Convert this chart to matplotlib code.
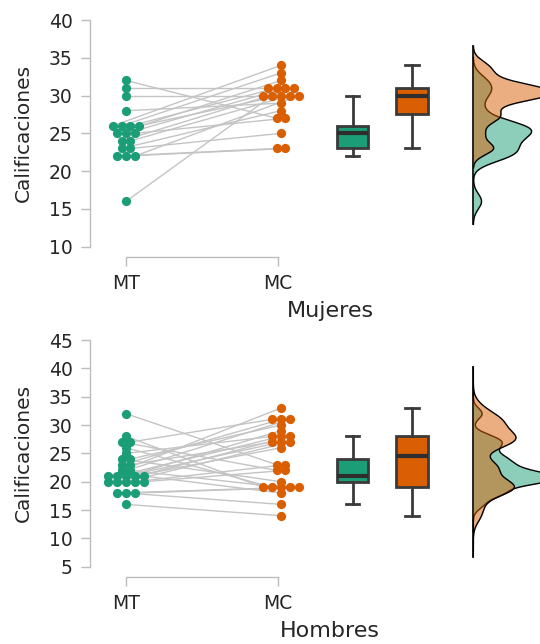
import numpy as np
import matplotlib
matplotlib.use('Agg')
import matplotlib.pyplot as plt

# datos (calificaciones pareadas MT -> MC)
grupos = ['MT', 'MC']
mujeres_mt = [32, 31, 30, 28, 16, 26, 26, 26, 26, 25, 25, 25, 24, 24, 23, 23, 22, 22, 22]
mujeres_mc = [27, 31, 30, 29, 30, 34, 33, 31, 30, 32, 31, 27, 31, 30, 28, 25, 23, 23, 30]
hombres_mt = [32, 28, 27, 27, 26, 25, 24, 24, 23, 23, 22, 22, 21, 21, 21, 21, 21,
              20, 20, 20, 20, 20, 18, 18, 18, 16]
hombres_mc = [23, 19, 22, 31, 19, 28, 20, 30, 31, 27, 33, 19, 31, 28, 27, 26, 18,
              29, 28, 27, 23, 22, 19, 16, 19, 14]
titulos = ['Mujeres', 'Hombres']
yticks_list = [np.arange(10, 41, 5), np.arange(5, 46, 5)]

verde = '#1b9e77'
naranja = '#d95f02'
gris = '#bcbcbc'
oscuro = '#3a3a3a'
texto = '#262626'

# posiciones en x (MT=0, MC=1)
pos_box = [1.49, 1.88]
x_dens = 2.285
xlim = (-0.237, 2.921)


def swarm(vals, step=0.058):
    # separa lado a lado los puntos con el mismo valor
    vals = np.asarray(vals)
    off = np.zeros(len(vals))
    for v in np.unique(vals):
        idx = np.where(vals == v)[0]
        m = len(idx)
        off[idx] = (np.arange(m) - (m - 1) / 2) * step
    return off


def kde(vals, cut, adjust=0.5):
    vals = np.asarray(vals, float)
    bw = adjust * vals.std(ddof=1) * len(vals) ** (-1 / 5)  # scott
    y = np.linspace(vals.min() - cut * bw, vals.max() + cut * bw, 400)
    d = np.exp(-0.5 * ((y[:, None] - vals[None, :]) / bw) ** 2).sum(1)
    d = d / (len(vals) * bw * np.sqrt(2 * np.pi))
    return y, d


def panel(ax, mt, mc, titulo, yticks, cut, ancho, xlab_y):
    mt = np.array(mt)
    mc = np.array(mc)
    x_mt = 0 + swarm(mt)
    x_mc = 1.02 + swarm(mc)

    # lineas pareadas
    for a, b, ya, yb in zip(x_mt, x_mc, mt, mc):
        ax.plot([a, b], [ya, yb], color='#c4c4c4', lw=1, zorder=1)
    ax.scatter(x_mt, mt, s=44, color=verde, zorder=3, linewidths=0)
    ax.scatter(x_mc, mc, s=44, color=naranja, zorder=3, linewidths=0)

    # boxplots
    bp = ax.boxplot([mt, mc], positions=pos_box, widths=0.21, patch_artist=True,
                    showfliers=False, capwidths=0.092,
                    boxprops=dict(edgecolor=oscuro, linewidth=2),
                    whiskerprops=dict(color=oscuro, linewidth=2),
                    capprops=dict(color=oscuro, linewidth=2),
                    medianprops=dict(color='#2e2e2e', linewidth=3))
    for patch, c in zip(bp['boxes'], [verde, naranja]):
        patch.set_facecolor(c)

    # densidades
    y1, d1 = kde(mt, cut)
    y2, d2 = kde(mc, cut)
    esc = ancho / max(d1.max(), d2.max())
    ax.fill_betweenx(y1, x_dens, x_dens + d1 * esc, color=verde, alpha=0.5, lw=0, zorder=2)
    ax.plot(x_dens + d1 * esc, y1, color='black', lw=1, zorder=2)
    ax.fill_betweenx(y2, x_dens, x_dens + d2 * esc, color=naranja, alpha=0.5, lw=0, zorder=2)
    ax.plot(x_dens + d2 * esc, y2, color='black', lw=1, zorder=2)
    ax.plot([x_dens, x_dens], [min(y1[0], y2[0]), max(y1[-1], y2[-1])],
            color='black', lw=1.2, zorder=2)

    ax.set_xlim(*xlim)
    ax.set_ylim(yticks[0], yticks[-1])
    ax.set_yticks(yticks)
    ax.set_xticks([0, 1])
    ax.set_xticklabels(grupos)
    for s in ['top', 'right']:
        ax.spines[s].set_visible(False)
    ax.spines['bottom'].set_position(('outward', 7.5))
    ax.spines['bottom'].set_bounds(0, 1)
    ax.spines['left'].set_bounds(yticks[0], yticks[-1])
    for s in ['left', 'bottom']:
        ax.spines[s].set_color(gris)
        ax.spines[s].set_linewidth(1)
    ax.tick_params(colors=gris, labelcolor=texto, labelsize=13.5, length=6.5, width=1, pad=6)
    ax.set_ylabel('Calificaciones', fontsize=14.5, color=texto)
    ax.yaxis.set_label_coords(-0.118, 0.5)
    ax.set_xlabel(titulo, fontsize=16, color=texto, va='top')
    ax.xaxis.set_label_coords(0.5, xlab_y)


fig = plt.figure(figsize=(5.4, 6.44), dpi=100)
ax1 = fig.add_axes([0.16667, 0.6169, 0.8889, 0.352])
ax2 = fig.add_axes([0.16667, 0.1200, 0.8889, 0.352])

panel(ax1, mujeres_mt, mujeres_mc, titulos[0], yticks_list[0], 3, 0.52, -0.24)
panel(ax2, hombres_mt, hombres_mc, titulos[1], yticks_list[1], 5.2, 0.55, -0.24)

fig.savefig('out.png', dpi=100)
